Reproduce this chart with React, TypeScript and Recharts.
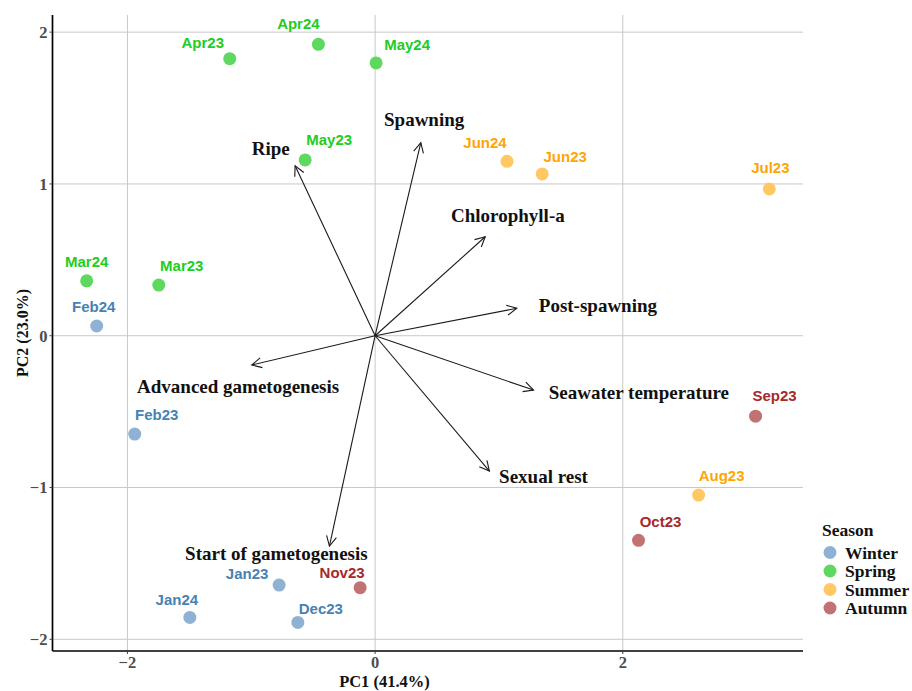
import {
  ScatterChart,
  Scatter,
  XAxis,
  YAxis,
  ReferenceLine,
  ReferenceDot
} from 'recharts';

const sampleNames = [
  'Jan23', 'Feb23', 'Mar23', 'Apr23', 'May23', 'Jun23', 'Jul23', 'Aug23', 'Sep23',
  'Oct23', 'Nov23', 'Dec23', 'Jan24', 'Feb24', 'Mar24', 'Apr24', 'May24', 'Jun24'
];
const sampleSeasons = [
  'Winter', 'Winter', 'Spring', 'Spring', 'Spring', 'Summer', 'Summer', 'Summer', 'Autumn',
  'Autumn', 'Autumn', 'Winter', 'Winter', 'Winter', 'Spring', 'Spring', 'Spring', 'Summer'
];
const pc1Scores = [
  -0.775, -1.941, -1.747, -1.174, -0.565, 1.349, 3.183, 2.612, 3.072,
  2.127, -0.121, -0.624, -1.496, -2.248, -2.329, -0.458, 0.008, 1.065
];
const pc2Scores = [
  -1.643, -0.648, 0.334, 1.825, 1.158, 1.066, 0.967, -1.05, -0.53,
  -1.348, -1.66, -1.889, -1.856, 0.064, 0.362, 1.92, 1.797, 1.149
];

const variableNames = [
  'Ripe', 'Spawning', 'Chlorophyll-a', 'Post-spawning', 'Seawater temperature',
  'Sexual rest', 'Start of gametogenesis', 'Advanced gametogenesis'
];
const pc1Loadings = [-0.646, 0.369, 0.889, 1.144, 1.279, 0.923, -0.369, -0.996];
const pc2Loadings = [1.12, 1.272, 0.652, 0.181, -0.358, -0.892, -1.386, -0.193];
// where each variable name sits, in PC units
const variableLabelPc1 = [-0.843, 0.396, 1.072, 1.799, 2.13, 1.36, -0.797, -1.106];
const variableLabelPc2 = [1.235, 1.426, 0.789, 0.198, -0.373, -0.929, -1.434, -0.336];

const pc1Ticks = [-2, 0, 2];
const pc2Ticks = [-2, -1, 0, 1, 2];

const seasons = ['Winter', 'Spring', 'Summer', 'Autumn'];
const POINT_COLORS: Record<string, string> = {
  Winter: '#8fb2d4',
  Spring: '#5fd85f',
  Summer: '#ffc862',
  Autumn: '#c27273'
};
const TEXT_COLORS: Record<string, string> = {
  Winter: '#4682b4',
  Spring: '#22cc22',
  Summer: '#ffa500',
  Autumn: '#a52a2a'
};

// pixel nudges for the sample labels (repel-style placement)
const labelNudge: Record<string, [number, number]> = {
  Apr24: [-20, -21], Apr23: [-27, -16], May24: [31, -18], May23: [24, -20],
  Jun24: [-22, -19], Jun23: [23, -17], Jul23: [1, -21], Mar24: [0, -19],
  Mar23: [23, -19], Feb24: [-3, -19], Feb23: [22, -19], Jan23: [-32, -11],
  Nov23: [-18, -15], Jan24: [-13, -18], Dec23: [23, -14], Sep23: [19, -20],
  Aug23: [23, -19], Oct23: [22, -19]
};

const SERIF = "'Liberation Serif', 'DejaVu Serif', serif";
const SANS = "'Liberation Sans', Arial, sans-serif";
const GRID = '#c8c8c8';

const samples = sampleNames.map((name, i) => ({
  name,
  season: sampleSeasons[i],
  x: pc1Scores[i],
  y: pc2Scores[i]
}));

const fmt = (v: number) => (v < 0 ? `\u2212${-v}` : `${v}`);

const Arrow = (props: any) => {
  const { x1, y1, x2, y2 } = props;
  const a = Math.atan2(y2 - y1, x2 - x1);
  const len = 11;
  const phi = (27 * Math.PI) / 180;
  const p1 = [x2 - len * Math.cos(a - phi), y2 - len * Math.sin(a - phi)];
  const p2 = [x2 - len * Math.cos(a + phi), y2 - len * Math.sin(a + phi)];
  return (
    <g stroke="#1a1a1a" strokeWidth={1.1} fill="none">
      <line x1={x1} y1={y1} x2={x2} y2={y2} />
      <polyline points={`${p1[0]},${p1[1]} ${x2},${y2} ${p2[0]},${p2[1]}`} />
    </g>
  );
};

const SamplePoint = (props: any) => {
  const { cx, cy, payload } = props;
  const [dx, dy] = labelNudge[payload.name] || [0, -18];
  return (
    <g>
      <circle cx={cx} cy={cy} r={6.5} fill={POINT_COLORS[payload.season]} />
      <text
        x={cx + dx}
        y={cy + dy + 5.3}
        textAnchor="middle"
        fontFamily={SANS}
        fontWeight={700}
        fontSize={15}
        fill={TEXT_COLORS[payload.season]}
      >
        {payload.name}
      </text>
    </g>
  );
};

const App = () => {
  return (
    <div style={{ position: 'absolute', left: 0, top: 0, width: 912, height: 691, background: '#fff' }}>
      <ScatterChart
        width={912}
        height={691}
        margin={{ top: 15, right: 109, bottom: 0, left: 0 }}
      >
        {pc1Ticks.map((t) => (
          <ReferenceLine key={`gx${t}`} x={t} stroke={GRID} strokeWidth={1} />
        ))}
        {pc2Ticks.map((t) => (
          <ReferenceLine key={`gy${t}`} y={t} stroke={GRID} strokeWidth={1} />
        ))}
        <XAxis
          type="number"
          dataKey="x"
          domain={[-2.605, 3.455]}
          ticks={pc1Ticks}
          allowDataOverflow
          height={40}
          tickFormatter={fmt}
          tickSize={3}
          tickMargin={2}
          axisLine={{ stroke: '#000', strokeWidth: 1.7 }}
          tickLine={{ stroke: '#444' }}
          tick={{ fill: '#4d4d4d', fontSize: 16.5, fontFamily: SERIF, fontWeight: 700 }}
          label={({ viewBox }: any) => (
            <text
              x={viewBox.x + 332}
              y={viewBox.y + 36}
              textAnchor="middle"
              fontFamily={SERIF}
              fontWeight={700}
              fontSize={16.5}
              fill="#111"
            >
              PC1 (41.4%)
            </text>
          )}
        />
        <YAxis
          type="number"
          dataKey="y"
          domain={[-2.077, 2.113]}
          ticks={pc2Ticks}
          allowDataOverflow
          width={52.5}
          tickFormatter={fmt}
          tickSize={3}
          tickMargin={2}
          axisLine={{ stroke: '#000', strokeWidth: 1.7 }}
          tickLine={{ stroke: '#444' }}
          tick={{ fill: '#4d4d4d', fontSize: 16.5, fontFamily: SERIF, fontWeight: 700 }}
          label={({ viewBox }: any) => (
            <text
              x={22}
              y={viewBox.y + viewBox.height / 2}
              transform={`rotate(-90, 22, ${viewBox.y + viewBox.height / 2})`}
              textAnchor="middle"
              dominantBaseline="central"
              fontFamily={SERIF}
              fontWeight={700}
              fontSize={16}
              fill="#111"
            >
              PC2 (23.0%)
            </text>
          )}
        />
        {seasons.map((season) => (
          <Scatter
            key={season}
            name={season}
            data={samples.filter((s) => s.season === season)}
            shape={SamplePoint}
            isAnimationActive={false}
          />
        ))}
        {variableNames.map((name, i) => (
          <ReferenceLine
            key={`arrow-${name}`}
            segment={[
              { x: 0, y: 0 },
              { x: pc1Loadings[i], y: pc2Loadings[i] }
            ]}
            shape={Arrow}
          />
        ))}
        {variableNames.map((name, i) => (
          <ReferenceDot
            key={`label-${name}`}
            x={variableLabelPc1[i]}
            y={variableLabelPc2[i]}
            shape={(p: any) => (
              <text
                x={p.cx}
                y={p.cy}
                textAnchor="middle"
                dominantBaseline="central"
                fontFamily={SERIF}
                fontWeight={700}
                fontSize={19}
                fill="#111"
              >
                {name}
              </text>
            )}
          />
        ))}
      </ScatterChart>
      <svg
        width={100}
        height={110}
        style={{ position: 'absolute', left: 812, top: 515 }}
      >
        <text x={10} y={21} fontFamily={SERIF} fontWeight={700} fontSize={17.5} fill="#111">
          Season
        </text>
        {seasons.map((season, i) => (
          <g key={season}>
            <circle cx={18} cy={37.5 + i * 18.5} r={6.5} fill={POINT_COLORS[season]} />
            <text
              x={33}
              y={43.5 + i * 18.5}
              fontFamily={SERIF}
              fontWeight={700}
              fontSize={17.5}
              fill="#111"
            >
              {season}
            </text>
          </g>
        ))}
      </svg>
    </div>
  );
};

export default App;
